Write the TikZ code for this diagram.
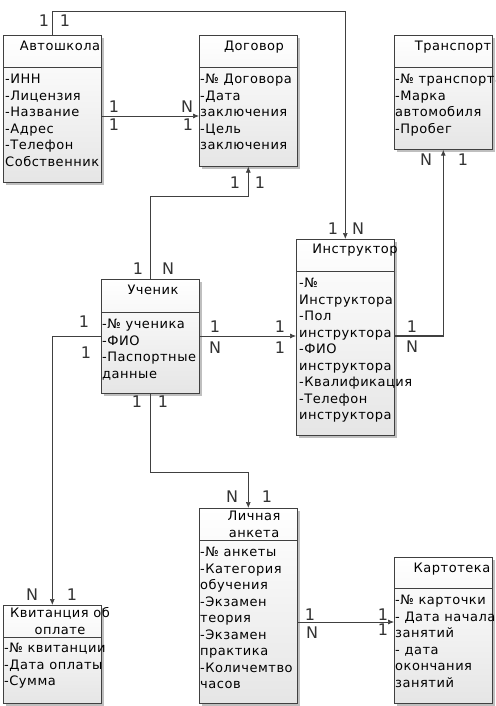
\documentclass[tikz,border=0pt]{standalone}
\usepackage{fontspec}
\setmainfont{DejaVu Sans}[LetterSpace=4]
\usetikzlibrary{shapes,arrows.meta,shadows}

\tikzset{
  entity/.style={draw=black!75, line width=0.6pt, anchor=north west, inner sep=0pt,
    top color=white, bottom color=black!10,
    drop shadow={shadow xshift=2.5pt, shadow yshift=-2.5pt, fill=black!25, opacity=1}},
  title/.style={anchor=north, inner sep=0pt, align=center, font=\fontsize{13}{16.5}\selectfont},
  attr/.style={anchor=north west, inner sep=0pt, align=left, font=\fontsize{13}{16.5}\selectfont},
  card/.style={inner sep=0pt, font=\fontsize{16}{18}\selectfont, text=black!80},
  link/.style={draw=black!75, line width=0.7pt, -{Latex[length=6pt,width=5pt]}},
}

\begin{document}
\begin{tikzpicture}[x=1pt,y=-1pt]
  %\draw[step=10pt,gray,very thin] (0,0) grid (495,706);
  \useasboundingbox (0,0) rectangle (495,706);

  \node[entity, minimum width=98pt, minimum height=147pt] (avto) at (3,35) {};
  \node[entity, minimum width=98pt, minimum height=131pt] (dog) at (199,35) {};
  \node[entity, minimum width=98pt, minimum height=114pt] (trans) at (394,35) {};
  \node[entity, minimum width=98pt, minimum height=196pt] (instr) at (296,239) {};
  \node[entity, minimum width=98pt, minimum height=114pt] (uch) at (101,279) {};
  \node[entity, minimum width=98pt, minimum height=195pt] (anketa) at (199,508) {};
  \node[entity, minimum width=98pt, minimum height=98pt] (kvit) at (3,605) {};
  \node[entity, minimum width=98pt, minimum height=146pt] (kart) at (394,557) {};

  \draw[black!75, line width=0.6pt] (3,67) -- (101,67);
  \draw[black!75, line width=0.6pt] (199,67) -- (297,67);
  \draw[black!75, line width=0.6pt] (394,67) -- (492,67);
  \draw[black!75, line width=0.6pt] (296,271) -- (394,271);
  \draw[black!75, line width=0.6pt] (101,312) -- (199,312);
  \draw[black!75, line width=0.6pt] (199,540) -- (297,540);
  \draw[black!75, line width=0.6pt] (3,637) -- (101,637);
  \draw[black!75, line width=0.6pt] (394,588) -- (492,588);

  \node[title] (avtoT) at (60,39) {\strut Автошкола};
  \node[title] (dogT) at (254,39) {\strut Договор};
  \node[title] (transT) at (453,39) {\strut Транспорт};
  \node[title] (instrT) at (355,242) {\strut Инструктор};
  \node[title] (uchT) at (153,283) {\strut Ученик};
  \node[title] (anketaT) at (254,509) {\strut Личная\\анкета};
  \node[title] (kvitT) at (60,606) {\strut Квитанция об\\оплате};
  \node[title] (kartT) at (452,561) {\strut Картотека};

  \node[attr] (avtoA) at (5,72) {\strut -ИНН\\-Лицензия\\-Название\\-Адрес\\-Телефон\\Собственник};
  \node[attr] (dogA) at (200,72) {\strut -№ Договора\\-Дата\\заключения\\-Цель\\заключения};
  \node[attr] (transA) at (395,72) {\strut -№ транспорта\\-Марка\\автомобиля\\-Пробег};
  \node[attr] (instrA) at (299,276) {\strut -№\\Инструктора\\-Пол\\инструктора\\-ФИО\\инструктора\\-Квалификация\\-Телефон\\инструктора};
  \node[attr] (uchA) at (102,317) {\strut -№ ученика\\-ФИО\\-Паспортные\\данные};
  \node[attr] (anketaA) at (200,545) {\strut -№ анкеты\\-Категория\\обучения\\-Экзамен\\теория\\-Экзамен\\практика\\-Количемтво\\часов};
  \node[attr] (kvitA) at (4,641) {\strut -№ квитанции\\-Дата оплаты\\-Сумма};
  \node[attr] (kartA) at (395,593) {\strut -№ карточки\\- Дата начала\\занятий\\- дата\\окончания\\занятий};

  \draw[link] (avto.north) -- (avto.north |- 0,11) -| (instr.north);
  \draw[link] (avto.east |- 0,116) -- (dog.west |- 0,116);
  \draw[link] (uch.north) -- (uch.north |- 0,196) -| (dog.south);
  \draw[link] (uch.east |- 0,336) -- (instr.west |- 0,336);
  \draw[link, line width=1.4pt] (instr.east |- 0,336) -| (trans.south);
  \draw[link] (uch.west |- 0,336) -| (kvit.north);
  \draw[link] (uch.south) -- (uch.south |- 0,472) -| (anketa.north);
  \draw[link] (anketa.east |- 0,622) -- (kart.west |- 0,622);

  \node[card] (c1a) at (44,21) {1};
  \node[card] (c1b) at (65,21) {1};
  \node[card] (c1c) at (333,229) {1};
  \node[card] (c1d) at (358,229) {N};

  \node[card] (c2a) at (114,107) {1};
  \node[card] (c2b) at (114,125) {1};
  \node[card] (c2c) at (187,107) {N};
  \node[card] (c2d) at (188,125) {1};

  \node[card] (c3a) at (235,183) {1};
  \node[card] (c3b) at (260,183) {1};
  \node[card] (c3c) at (138,269) {1};
  \node[card] (c3d) at (168,269) {N};

  \node[card] (c4a) at (215,327) {1};
  \node[card] (c4b) at (215,348) {N};
  \node[card] (c4c) at (280,327) {1};
  \node[card] (c4d) at (280,348) {1};

  \node[card] (c5a) at (412,327) {1};
  \node[card] (c5b) at (412,347) {N};
  \node[card] (c5c) at (426,160) {N};
  \node[card] (c5d) at (463,160) {1};

  \node[card] (c6a) at (84,322) {1};
  \node[card] (c6b) at (86,353) {1};
  \node[card] (c6c) at (32,595) {N};
  \node[card] (c6d) at (72,595) {1};

  \node[card] (c7a) at (137,402) {1};
  \node[card] (c7b) at (163,402) {1};
  \node[card] (c7c) at (232,497) {N};
  \node[card] (c7d) at (267,497) {1};

  \node[card] (c8a) at (310,615) {1};
  \node[card] (c8b) at (312,633) {N};
  \node[card] (c8c) at (383,615) {1};
  \node[card] (c8d) at (383,630) {1};
\end{tikzpicture}
\end{document}
